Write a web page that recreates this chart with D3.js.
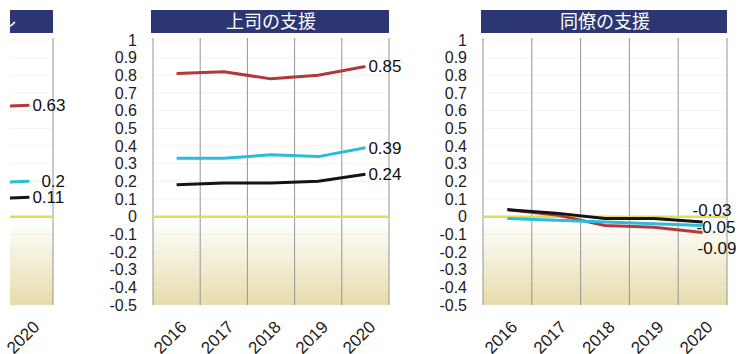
<!DOCTYPE html>
<html>
<head>
<meta charset="utf-8">
<script src="https://cdn.jsdelivr.net/npm/d3@7"></script>
<style>
  body { margin: 0; background: #fff; }
  text { font-family: "Liberation Sans", Arial, sans-serif; }
  .title { font-family: "Noto Sans CJK JP", sans-serif; }
</style>
</head>
<body>
<div id="chart"></div>
<script>
// data
const years = ['2016', '2017', '2018', '2019', '2020'];
const titles = ['仕事のコントロール', '上司の支援', '同僚の支援'];
const yTicks = [1, 0.9, 0.8, 0.7, 0.6, 0.5, 0.4, 0.3, 0.2, 0.1, 0, -0.1, -0.2, -0.3, -0.4, -0.5];

// panel 1 is cut off, only the 2020 end is visible
const controlRed = [0.61, 0.62, 0.61, 0.62, 0.63];
const controlCyan = [0.18, 0.18, 0.19, 0.19, 0.2];
const controlBlack = [0.09, 0.10, 0.10, 0.10, 0.11];

const bossRed = [0.81, 0.82, 0.78, 0.80, 0.85];
const bossCyan = [0.33, 0.33, 0.35, 0.34, 0.39];
const bossBlack = [0.18, 0.19, 0.19, 0.20, 0.24];

const peerRed = [0.04, 0.01, -0.05, -0.06, -0.09];
const peerCyan = [-0.01, -0.02, -0.03, -0.04, -0.05];
const peerBlack = [0.04, 0.02, -0.01, -0.01, -0.03];

const width = 743;
const height = 354;
const colors = { red: '#b3383a', cyan: '#2bbcd9', black: '#141414', zero: '#e0dc5e' };

const panels = [
  { title: titles[0], left: -183, right: 53, clip: true,
    series: [
      { vals: controlRed, color: colors.red, dx: 3, dy: 0 },
      { vals: controlCyan, color: colors.cyan, dx: 12, dy: 0 },
      { vals: controlBlack, color: colors.black, dx: 3, dy: 0 }
    ] },
  { title: titles[1], left: 153, right: 389,
    series: [
      { vals: bossRed, color: colors.red, dx: 3, dy: 0 },
      { vals: bossCyan, color: colors.cyan, dx: 3, dy: 0 },
      { vals: bossBlack, color: colors.black, dx: 3, dy: 0 }
    ] },
  { title: titles[2], left: 483, right: 727,
    series: [
      { vals: peerRed, color: colors.red, dx: -5, dy: 15 },
      { vals: peerCyan, color: colors.cyan, dx: -6, dy: 2 },
      { vals: peerBlack, color: colors.black, dx: -10, dy: -12 }
    ] }
];

const svg = d3.select('#chart')
  .append('svg')
  .attr('width', width)
  .attr('height', height);

const defs = svg.append('defs');

// background fade: white above zero, beige towards the bottom
const grad = defs.append('linearGradient')
  .attr('id', 'bg')
  .attr('x1', 0).attr('y1', 0).attr('x2', 0).attr('y2', 1);
grad.append('stop').attr('offset', '0%').attr('stop-color', '#ffffff');
grad.append('stop').attr('offset', '68%').attr('stop-color', '#ffffff');
grad.append('stop').attr('offset', '100%').attr('stop-color', '#e6dcab');

defs.append('clipPath').attr('id', 'cut')
  .append('rect').attr('x', 10).attr('y', 0).attr('width', width).attr('height', height);

const y = d3.scaleLinear().domain([-0.5, 1]).range([305, 40]);

panels.forEach(p => {
  const x = d3.scaleBand().domain(years).range([p.left, p.right]);
  const cx = d => x(d) + x.bandwidth() / 2;

  const g = svg.append('g');
  const plot = g.append('g');
  if (p.clip) plot.attr('clip-path', 'url(#cut)');

  // title bar
  plot.append('rect')
    .attr('x', p.left - 2)
    .attr('y', 10)
    .attr('width', p.right - p.left + 2)
    .attr('height', 23)
    .attr('fill', '#2c3772');

  plot.append('text')
    .attr('class', 'title')
    .attr('x', (p.left + p.right) / 2)
    .attr('y', 22)
    .attr('dy', '0.35em')
    .attr('text-anchor', 'middle')
    .attr('fill', '#fff')
    .attr('font-size', 18)
    .text(p.title);

  // plot background
  plot.append('rect')
    .attr('x', p.left)
    .attr('y', y(1))
    .attr('width', p.right - p.left)
    .attr('height', y(-0.5) - y(1))
    .attr('fill', 'url(#bg)');

  // faint horizontal grid
  plot.append('g')
    .selectAll('line')
    .data(yTicks)
    .join('line')
    .attr('x1', p.left).attr('x2', p.right)
    .attr('y1', d => y(d)).attr('y2', d => y(d))
    .attr('stroke', '#ece9e0')
    .attr('stroke-width', 0.6);

  // vertical grid at column edges
  plot.append('g')
    .selectAll('line')
    .data(years.map(d => x(d)).concat([p.right]))
    .join('line')
    .attr('x1', d => d).attr('x2', d => d)
    .attr('y1', y(1) - 2).attr('y2', y(-0.5))
    .attr('stroke', '#959595')
    .attr('stroke-width', 1);

  // zero line
  plot.append('line')
    .attr('x1', p.left).attr('x2', p.right)
    .attr('y1', y(0)).attr('y2', y(0))
    .attr('stroke', colors.zero)
    .attr('stroke-width', 2.5);

  const line = d3.line()
    .x((d, i) => cx(years[i]))
    .y(d => y(d));

  p.series.forEach(s => {
    plot.append('path')
      .attr('d', line(s.vals))
      .attr('fill', 'none')
      .attr('stroke', s.color)
      .attr('stroke-width', 3)
      .attr('stroke-linejoin', 'round');
  });

  // end labels
  p.series.forEach(s => {
    const last = s.vals[s.vals.length - 1];
    g.append('text')
      .attr('x', cx(years[years.length - 1]) + s.dx)
      .attr('y', y(last) + s.dy)
      .attr('dy', '0.35em')
      .attr('font-size', 17)
      .attr('fill', '#111')
      .text(last);
  });

  // y axis labels
  if (!p.clip) {
    g.append('g')
      .selectAll('text')
      .data(yTicks)
      .join('text')
      .attr('x', p.left - 16)
      .attr('y', d => y(d))
      .attr('dy', '0.35em')
      .attr('text-anchor', 'end')
      .attr('font-size', 16)
      .attr('fill', '#222')
      .text(d => String(d));
  }

  // rotated year labels
  g.append('g')
    .selectAll('text')
    .data(years)
    .join('text')
    .attr('transform', d => `translate(${cx(d) + 11},${328}) rotate(-45)`)
    .attr('text-anchor', 'end')
    .attr('font-size', 17)
    .attr('fill', '#222')
    .text(d => d);
});
</script>
</body>
</html>
